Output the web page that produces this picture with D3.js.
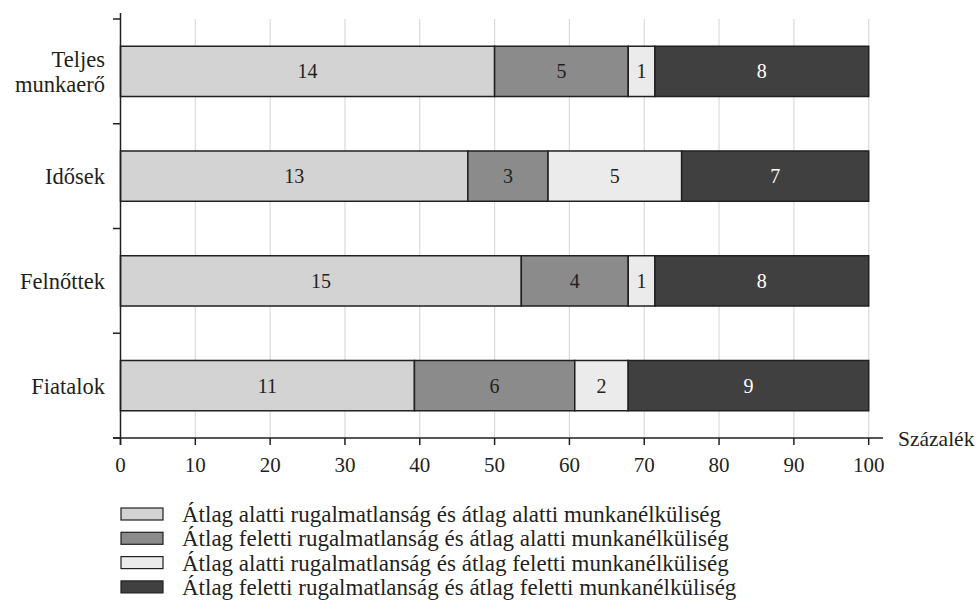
<!DOCTYPE html>
<html>
<head>
<meta charset="utf-8">
<script src="https://cdn.jsdelivr.net/npm/d3@7"></script>
<style>
  body { margin: 0; background: #fff; }
  svg text { font-family: "Liberation Serif", "Times New Roman", serif; fill: #231f20; }
</style>
</head>
<body>
<svg id="chart" width="979" height="615"></svg>
<script>
"use strict";

// categories, top to bottom
const categories = ["Teljes munkaerő", "Idősek", "Felnőttek", "Fiatalok"]
// number of countries in each group, per category
const belowBelow = [14, 13, 15, 11]
const aboveBelow = [5, 3, 4, 6]
const belowAbove = [1, 5, 1, 2]
const aboveAbove = [8, 7, 8, 9]
const seriesNames = [
    "Átlag alatti rugalmatlanság és átlag alatti munkanélküliség",
    "Átlag feletti rugalmatlanság és átlag alatti munkanélküliség",
    "Átlag alatti rugalmatlanság és átlag feletti munkanélküliség",
    "Átlag feletti rugalmatlanság és átlag feletti munkanélküliség"
]
const seriesColors = ["#d3d3d3", "#8b8b8b", "#ebebeb", "#404040"]
const labelColors = ["#231f20", "#231f20", "#231f20", "#ffffff"]
const xTicks = [0, 10, 20, 30, 40, 50, 60, 70, 80, 90, 100]
const xTitle = "Százalék"

const svg = d3.select("#chart")

// build rows with shares in percent
const seriesValues = [belowBelow, aboveBelow, belowAbove, aboveAbove]
const rows = categories.map(function (c, i) {
    let row = { cat: c }
    let total = d3.sum(seriesValues, function (s) { return s[i] })
    seriesValues.forEach(function (s, k) {
        row["s" + k] = s[i] / total * 100
        row["n" + k] = s[i]
    })
    return row
})
const keys = ["s0", "s1", "s2", "s3"]
const stacked = d3.stack().keys(keys)(rows)

// scales
const x = d3.scaleLinear()
    .domain([0, 100])
    .range([120.5, 868.7])
const y = d3.scaleBand()
    .domain(categories)
    .range([19, 438])
    .paddingInner(0.52)
    .paddingOuter(0.26)
const yTickPos = d3.range(categories.length + 1).map(function (i) {
    return 19 + i * (438 - 19) / categories.length
})

// grid lines
svg.append("g")
    .selectAll("line")
    .data(xTicks.slice(1))
    .enter().append("line")
    .attr("x1", function (d) { return x(d) })
    .attr("x2", function (d) { return x(d) })
    .attr("y1", 19)
    .attr("y2", 438)
    .attr("stroke", "#dadada")
    .attr("stroke-width", 1.2)

// bars
const layer = svg.append("g")
    .selectAll("g")
    .data(stacked)
    .enter().append("g")
    .attr("fill", function (d, i) { return seriesColors[i] })

layer.selectAll("rect")
    .data(function (d) { return d })
    .enter().append("rect")
    .attr("x", function (d) { return x(d[0]) })
    .attr("width", function (d) { return x(d[1]) - x(d[0]) })
    .attr("y", function (d) { return y(d.data.cat) })
    .attr("height", y.bandwidth())
    .attr("stroke", "#231f20")
    .attr("stroke-width", 1.5)

// value labels
stacked.forEach(function (s, k) {
    svg.append("g")
        .selectAll("text")
        .data(s)
        .enter().append("text")
        .attr("x", function (d) { return (x(d[0]) + x(d[1])) / 2 })
        .attr("y", function (d) { return y(d.data.cat) + y.bandwidth() / 2 })
        .attr("dy", "0.35em")
        .attr("text-anchor", "middle")
        .attr("font-size", 20)
        .style("fill", labelColors[k])
        .text(function (d) { return d.data["n" + k] })
})

// y axis
const yAxis = svg.append("g")
yAxis.append("line")
    .attr("x1", 120.5).attr("x2", 120.5)
    .attr("y1", 13).attr("y2", 445)
    .attr("stroke", "#231f20").attr("stroke-width", 1.5)
yAxis.selectAll(".tick")
    .data(yTickPos)
    .enter().append("line")
    .attr("x1", 113).attr("x2", 120.5)
    .attr("y1", function (d) { return d }).attr("y2", function (d) { return d })
    .attr("stroke", "#231f20").attr("stroke-width", 1.5)

// category labels (two lines for the first one)
const catLabel = yAxis.selectAll(".cat")
    .data(categories)
    .enter().append("text")
    .attr("text-anchor", "end")
    .attr("font-size", 22.5)
catLabel.each(function (d) {
    let words = d === "Teljes munkaerő" ? d.split(" ") : [d]
    let cy = y(d) + y.bandwidth() / 2
    let t = d3.select(this)
    words.forEach(function (w, i) {
        t.append("tspan")
            .attr("x", 105)
            .attr("y", cy + (i - (words.length - 1) / 2) * 25.5)
            .attr("dy", "0.35em")
            .text(w)
    })
})

// x axis
const xAxis = svg.append("g")
xAxis.append("line")
    .attr("x1", 113).attr("x2", 883)
    .attr("y1", 438).attr("y2", 438)
    .attr("stroke", "#231f20").attr("stroke-width", 1.5)
xAxis.selectAll(".tick")
    .data(xTicks)
    .enter().append("line")
    .attr("x1", function (d) { return x(d) }).attr("x2", function (d) { return x(d) })
    .attr("y1", 438).attr("y2", 445)
    .attr("stroke", "#231f20").attr("stroke-width", 1.5)
xAxis.selectAll(".lbl")
    .data(xTicks)
    .enter().append("text")
    .attr("x", function (d) { return x(d) })
    .attr("y", 465)
    .attr("dy", "0.35em")
    .attr("text-anchor", "middle")
    .attr("font-size", 21)
    .text(function (d) { return d })
xAxis.append("text")
    .attr("x", 898)
    .attr("y", 438)
    .attr("dy", "0.35em")
    .attr("font-size", 21.5)
    .text(xTitle)

// legend
const legend = svg.append("g")
    .selectAll("g")
    .data(seriesNames)
    .enter().append("g")
    .attr("transform", function (d, i) { return "translate(121," + (514 + i * 24.3) + ")" })
legend.append("rect")
    .attr("x", 0).attr("y", -6)
    .attr("width", 42).attr("height", 12)
    .attr("fill", function (d, i) { return seriesColors[i] })
    .attr("stroke", "#231f20")
    .attr("stroke-width", 1.2)
legend.append("text")
    .attr("x", 61)
    .attr("y", 0)
    .attr("dy", "0.35em")
    .attr("font-size", 23)
    .text(function (d) { return d })
</script>
</body>
</html>
